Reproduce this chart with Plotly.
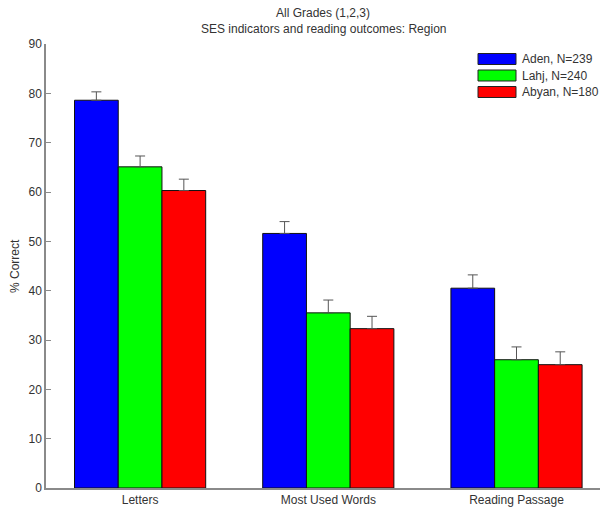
import plotly.graph_objects as go

categories = ["Letters", "Most Used Words", "Reading Passage"]
series_names = ["Aden, N=239", "Lahj, N=240", "Abyan, N=180"]
aden = [78.6, 51.6, 40.5]
aden_err = [1.7, 2.4, 2.7]
lahj = [65.1, 35.5, 26.0]
lahj_err = [2.2, 2.6, 2.6]
abyan = [60.3, 32.3, 25.0]
abyan_err = [2.3, 2.5, 2.6]
y_ticks = [0, 10, 20, 30, 40, 50, 60, 70, 80, 90]
title_lines = ["All Grades (1,2,3)", "SES indicators and reading outcomes: Region"]
y_title = "% Correct"

colors = ["#0000ff", "#00ff00", "#ff0000"]
values = [aden, lahj, abyan]
errors = [aden_err, lahj_err, abyan_err]

FONT = "Liberation Sans, Arial, sans-serif"
W, H = 600, 507
ML, MR, MT, MB = 46, 0, 44, 19
PW, PH = W - ML - MR, H - MT - MB

fig = go.Figure()
for name, vals, errs, col in zip(series_names, values, errors, colors):
    fig.add_trace(go.Bar(
        x=list(range(len(categories))), y=vals, name=name,
        marker=dict(color=col, line=dict(color="#111111", width=1)),
        error_y=dict(type="data", array=errs, arrayminus=[0] * len(errs),
                     symmetric=False, color="#555555", thickness=1, width=5),
        showlegend=False,
    ))

def px_x(px):
    return (px - ML) / PW

def px_y(py):
    return (H - MB - py) / PH

shapes = []
annotations = []
# manual legend (MATLAB-style wide swatches)
leg_centers = [59, 75.5, 92]
for name, col, cy in zip(series_names, colors, leg_centers):
    shapes.append(dict(type="rect", xref="paper", yref="paper",
                       x0=px_x(478), x1=px_x(516), y0=px_y(cy + 5.5), y1=px_y(cy - 5.5),
                       fillcolor=col, line=dict(color="#222222", width=1)))
    annotations.append(dict(xref="paper", yref="paper", x=px_x(520), y=px_y(cy),
                            xanchor="left", yanchor="middle", showarrow=False,
                            text=name, font=dict(family=FONT, size=12, color="#333333")))

for line, cy in zip(title_lines, [13, 29]):
    annotations.append(dict(xref="paper", yref="paper", x=px_x(323), y=px_y(cy),
                            xanchor="center", yanchor="middle", showarrow=False,
                            text=line, font=dict(family=FONT, size=12, color="#333333")))

annotations.append(dict(xref="paper", yref="paper", x=px_x(15), y=0.5,
                        xanchor="center", yanchor="middle", showarrow=False, textangle=-90,
                        text=y_title, font=dict(family=FONT, size=12, color="#333333")))

fig.update_layout(
    width=W, height=H,
    margin=dict(l=ML, r=MR, t=MT, b=MB, pad=0),
    paper_bgcolor="white", plot_bgcolor="white",
    barmode="group", bargap=0.303, bargroupgap=0,
    font=dict(family=FONT, size=12, color="#333333"),
    shapes=shapes, annotations=annotations,
    xaxis=dict(range=[-0.5, -0.5 + PW / 188.2], tickmode="array",
               tickvals=list(range(len(categories))), ticktext=categories,
               showline=True, linecolor="#8a8a8a", linewidth=1.5, ticks="",
               showgrid=False, zeroline=False, automargin=False,
               tickfont=dict(family=FONT, size=12, color="#333333")),
    yaxis=dict(range=[0, 90], tickmode="array", tickvals=y_ticks,
               showline=True, linecolor="#8a8a8a", linewidth=1.5,
               ticks="inside", ticklen=5, tickcolor="#8a8a8a", tickwidth=1,
               showgrid=False, zeroline=False, automargin=False,
               tickfont=dict(family=FONT, size=12, color="#333333")),
)

fig.write_html("out.html")
